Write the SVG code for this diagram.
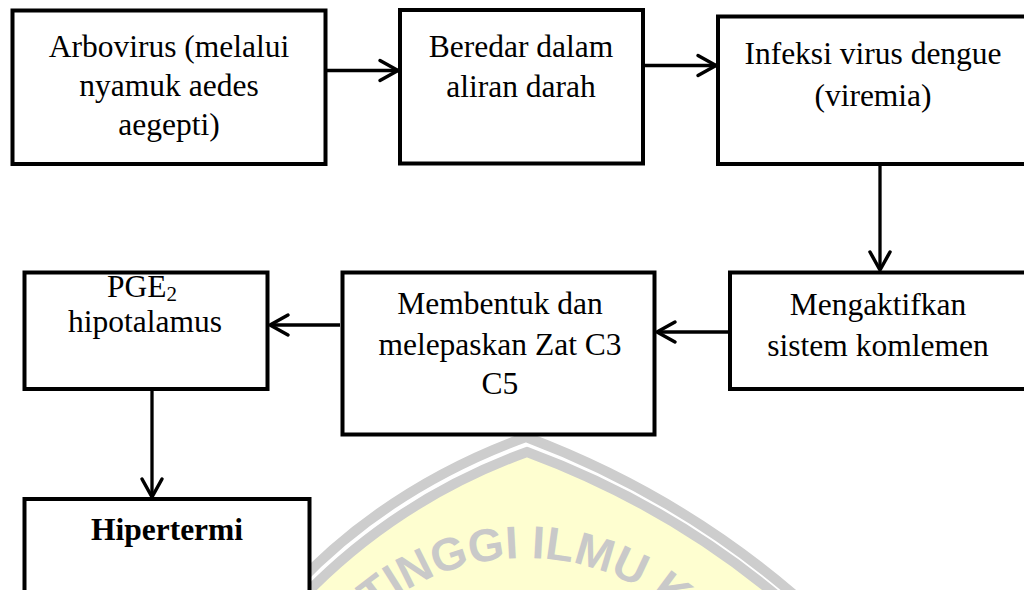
<svg xmlns="http://www.w3.org/2000/svg" width="1024" height="590" viewBox="0 0 1024 590">
<style>
.box{fill:#fff;stroke:#000;stroke-width:4}
.t{font-family:"Liberation Serif","Times New Roman",serif;font-size:31.5px;fill:#000;text-anchor:middle}
.b{font-weight:bold}
.c{fill:none;stroke:#000;stroke-width:3.3}
.band{fill:none;stroke:#cdcdcd;stroke-width:10}
.wm{font-family:"Liberation Sans",Arial,sans-serif;font-weight:bold;font-size:46px;fill:#c9c9c9}
</style>
<defs>
<marker id="arr" markerUnits="userSpaceOnUse" markerWidth="24" markerHeight="26" viewBox="0 0 24 26" refX="21" refY="13" orient="auto">
<path d="M3,3 L21,13 L3,23" fill="none" stroke="#000" stroke-width="3.5" stroke-linecap="round" stroke-linejoin="round"/>
</marker>
<path id="wmarc" d="M293 790 A232 232 0 0 1 757 790"/>
</defs>
<g id="watermark">
<path d="M300 600 Q395 500 527 452 Q670 505 782 600 Z" fill="#fefed0"/>
<path class="band" d="M282 600 Q380 490 526 437 Q680 495 800 600"/>
<path class="band" d="M300 600 Q395 500 527 452 Q670 505 782 600"/>
<text class="wm"><textPath href="#wmarc" startOffset="50%" text-anchor="middle">TINGGI ILMU K</textPath></text>
</g>
<g id="connectors">
<line class="c" x1="327" y1="70.5" x2="398" y2="70.5" marker-end="url(#arr)"/>
<line class="c" x1="645" y1="65.5" x2="716" y2="65.5" marker-end="url(#arr)"/>
<line class="c" x1="880" y1="166" x2="880" y2="270" marker-end="url(#arr)"/>
<line class="c" x1="728" y1="332" x2="657" y2="332" marker-end="url(#arr)"/>
<line class="c" x1="340" y1="325" x2="270" y2="325" marker-end="url(#arr)"/>
<line class="c" x1="152" y1="391" x2="152" y2="497" marker-end="url(#arr)"/>
</g>
<g id="n1"><rect class="box" x="12.5" y="10.5" width="313" height="153.5"/>
<text class="t" x="169" y="57">Arbovirus (melalui</text>
<text class="t" x="169" y="96">nyamuk aedes</text>
<text class="t" x="169" y="135">aegepti)</text></g>
<g id="n2"><rect class="box" x="400" y="10" width="243" height="153.5"/>
<text class="t" x="521" y="57">Beredar dalam</text>
<text class="t" x="521" y="97">aliran darah</text></g>
<g id="n3"><rect class="box" x="718" y="16.5" width="320" height="147.5"/>
<text class="t" x="873" y="64">Infeksi virus dengue</text>
<text class="t" x="873" y="106">(viremia)</text></g>
<g id="n4"><rect class="box" x="730" y="272.5" width="310" height="116.5"/>
<text class="t" x="878" y="315">Mengaktifkan</text>
<text class="t" x="878" y="356">sistem komlemen</text></g>
<g id="n5"><rect class="box" x="342.5" y="272.5" width="312" height="162"/>
<text class="t" x="500" y="314">Membentuk dan</text>
<text class="t" x="500" y="355">melepaskan Zat C3</text>
<text class="t" x="500" y="394">C5</text></g>
<g id="n6"><rect class="box" x="24.5" y="272.5" width="243" height="116.5"/>
<text class="t" x="142" y="297">PGE<tspan font-size="21" dy="4">2</tspan></text>
<text class="t" x="145" y="332">hipotalamus</text></g>
<g id="n7"><rect class="box" x="24.5" y="499" width="285" height="110"/>
<text class="t b" x="167" y="540">Hipertermi</text></g>
</svg>
